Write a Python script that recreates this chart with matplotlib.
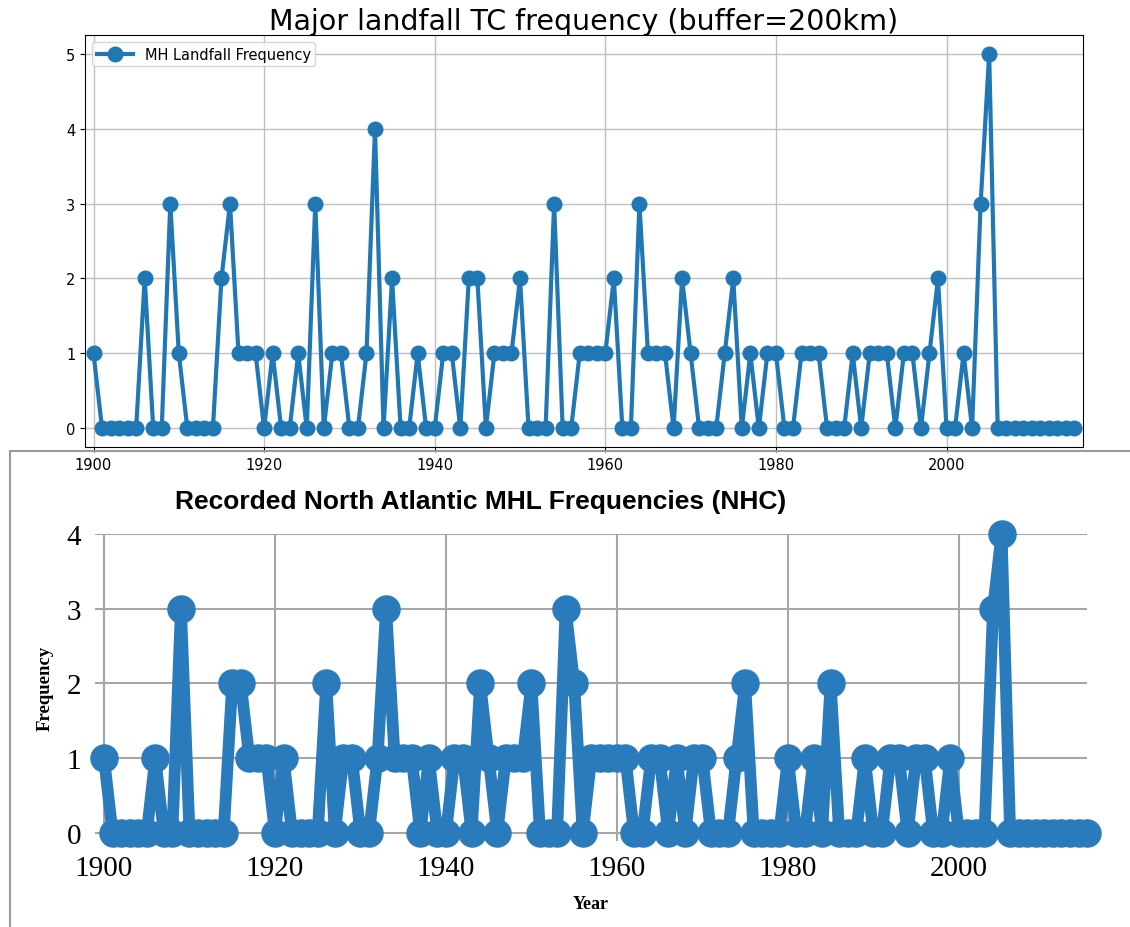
import matplotlib.pyplot as plt
from matplotlib.patches import Rectangle

years = list(range(1900, 2016))

# model landfall counts (top panel)
model_freq = [1, 0, 0, 0, 0, 0, 2, 0, 0, 3,
              1, 0, 0, 0, 0, 2, 3, 1, 1, 1,
              0, 1, 0, 0, 1, 0, 3, 0, 1, 1,
              0, 0, 1, 4, 0, 2, 0, 0, 1, 0,
              0, 1, 1, 0, 2, 2, 0, 1, 1, 1,
              2, 0, 0, 0, 3, 0, 0, 1, 1, 1,
              1, 2, 0, 0, 3, 1, 1, 1, 0, 2,
              1, 0, 0, 0, 1, 2, 0, 1, 0, 1,
              1, 0, 0, 1, 1, 1, 0, 0, 0, 1,
              0, 1, 1, 1, 0, 1, 1, 0, 1, 2,
              0, 0, 1, 0, 3, 5, 0, 0, 0, 0,
              0, 0, 0, 0, 0, 0]

# NHC recorded counts (bottom panel)
nhc_freq = [1, 0, 0, 0, 0, 0, 1, 0, 0, 3,
            0, 0, 0, 0, 0, 2, 2, 1, 1, 1,
            0, 1, 0, 0, 0, 0, 2, 0, 1, 1,
            0, 0, 1, 3, 1, 1, 1, 0, 1, 0,
            0, 1, 1, 0, 2, 1, 0, 1, 1, 1,
            2, 0, 0, 0, 3, 2, 0, 1, 1, 1,
            1, 1, 0, 0, 1, 1, 0, 1, 0, 1,
            1, 0, 0, 0, 1, 2, 0, 0, 0, 0,
            1, 0, 0, 1, 0, 2, 0, 0, 0, 1,
            0, 0, 1, 1, 0, 1, 1, 0, 0, 1,
            0, 0, 0, 0, 3, 4, 0, 0, 0, 0,
            0, 0, 0, 0, 0, 0]

year_ticks = [1900, 1920, 1940, 1960, 1980, 2000]

fig = plt.figure(figsize=(11.3, 9.28), dpi=100)

# top panel
ax1 = fig.add_axes([0.0752, 0.5172, 0.8832, 0.444])
ax1.plot(years, model_freq, '-o', color='#1f77b4', lw=3, ms=10.5,
         label='MH Landfall Frequency')
ax1.set_xlim(1899, 2016)
ax1.set_ylim(-0.25, 5.25)
ax1.set_xticks(year_ticks)
ax1.set_yticks([0, 1, 2, 3, 4, 5])
ax1.tick_params(labelsize=10.5)
ax1.grid(True, color='#c0c0c0', lw=1)
ax1.set_axisbelow(True)
ax1.legend(loc='upper left', fontsize=10.5, borderpad=0.3, handlelength=2.5)
ax1.set_title('Major landfall TC frequency (buffer=200km)', fontsize=20.5, pad=3)

# bottom panel, framed like a pasted figure
fig.patches.append(Rectangle((10 / 1130, -0.05), 1.2, 1 - 452 / 928 + 0.05,
                             transform=fig.transFigure, fill=False,
                             edgecolor='#999999', lw=1.5))

ax2 = fig.add_axes([0.0841, 0.0927, 0.8779, 0.3308])
ax2.plot(years, nhc_freq, '-o', color='#2a7bbb', lw=8.5, ms=19.5, clip_on=False)
ax2.set_xlim(1898.95, 2015)
ax2.set_ylim(-0.107, 4)
ax2.set_xticks(year_ticks)
ax2.set_yticks([0, 1, 2, 3, 4])
for s in ax2.spines.values():
    s.set_visible(False)
ax2.grid(True, color='#a6a6a6', lw=1.5)
ax2.set_axisbelow(True)
ax2.tick_params(length=0, labelsize=21, pad=10)
for lab in ax2.get_xticklabels() + ax2.get_yticklabels():
    lab.set_family('Liberation Serif')
ax2.set_xlabel('Year', family='Liberation Serif', fontweight='bold', fontsize=13, labelpad=10)
ax2.set_ylabel('Frequency', family='Liberation Serif', fontweight='bold', fontsize=13.5, labelpad=9)
fig.text(481 / 1130, 1 - 502 / 928, 'Recorded North Atlantic MHL Frequencies (NHC)',
         family='Liberation Sans', fontweight='bold', fontsize=19,
         ha='center', va='center')

plt.savefig('out.png')
